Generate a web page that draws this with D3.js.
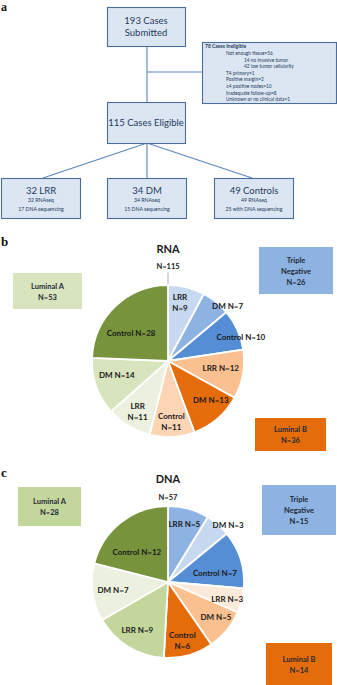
<!DOCTYPE html>
<html><head><meta charset="utf-8">
<script src="https://cdn.jsdelivr.net/npm/d3@7"></script>
<style>html,body{margin:0;padding:0;background:#fff;}svg{display:block;}</style>
</head><body>
<svg id="c" width="337" height="685"></svg>
<script>
// ---------- DATA ----------
const submitted = ["193 Cases", "Submitted"];
const eligible = "115 Cases Eligible";
const ineligibleHeader = "78 Cases Ineligible";
const ineligibleLines = ["Not enough tissue=56", "14 no invasive tumor", "42 low tumor cellularity",
  "T4 primary=1", "Positive margin=2", "≥4 positive nodes=10", "Inadequate follow-up=8", "Unknown or no clinical data=1"];
const ineligibleLevels = [1, 2, 2, 1, 1, 1, 1, 1];
const groupTitles = ["32 LRR", "34 DM", "49 Controls"];
const groupRna = ["32 RNAseq", "34 RNAseq", "49 RNAseq"];
const groupDna = ["17 DNA sequencing", "15 DNA sequencing", "25 with DNA sequencing"];

const sliceCategories = ["LRR", "DM", "Control", "LRR", "DM", "Control", "LRR", "DM", "Control"];
const rnaValues = [9, 7, 10, 12, 13, 11, 11, 14, 28];
const dnaValues = [5, 3, 7, 3, 5, 6, 9, 7, 12];
const subtypeNames = ["Triple Negative", "Luminal B", "Luminal A"];
const rnaSubtypeTotals = [26, 36, 53];
const dnaSubtypeTotals = [15, 14, 28];
const rnaTotal = 115, dnaTotal = 57;

// ---------- STYLE ----------
const rnaColors = ["#c6d9f1", "#8db3e2", "#558ed5", "#fac090", "#e46c0a", "#fcd5b5", "#ebf1de", "#d7e4bd", "#77933c"];
const dnaColors = ["#8db3e2", "#c6d9f1", "#558ed5", "#fde9d9", "#fac090", "#e46c0a", "#c3d69b", "#ebf1de", "#77933c"];
const FONT = "Lato, Carlito, Calibri, 'Open Sans', sans-serif";
const boxFill = "#dce6f2", boxStroke = "#4a6d9c", lineCol = "#5b86c0", boxText = "#1f3a60";

const svg = d3.select("#c");

// ---------- PANEL A: flowchart ----------
function panelLabel(t, x, y, size) {
  svg.append("text").attr("x", x).attr("y", y).text(t)
    .attr("font-family", "'Liberation Serif', 'Times New Roman', serif").attr("font-weight", "bold")
    .attr("font-size", size || 13).attr("fill", "#111");
}
panelLabel("a", 1, 11, 12);

const links = [[147, 46, 147, 102], [147, 72, 202, 72], [147, 143, 43, 178], [147, 143, 147, 178], [147, 143, 252, 178]];
svg.selectAll("line.link").data(links).join("line").attr("class", "link")
  .attr("x1", d => d[0]).attr("y1", d => d[1]).attr("x2", d => d[2]).attr("y2", d => d[3])
  .attr("stroke", lineCol).attr("stroke-width", 1.1);

function box(x, y, w, h) {
  svg.append("rect").attr("x", x + 0.5).attr("y", y + 0.5).attr("width", w).attr("height", h)
    .attr("fill", boxFill).attr("stroke", boxStroke).attr("stroke-width", 1.1);
}
function txt(t, x, y, size, opts = {}) {
  return svg.append("text").attr("x", x).attr("y", y).text(t)
    .attr("font-family", FONT).attr("font-size", size)
    .attr("font-weight", opts.weight || "normal")
    .attr("text-anchor", opts.anchor || "middle")
    .attr("fill", opts.fill || boxText);
}
box(107, 7, 78, 39);
submitted.forEach((s, i) => txt(s, 146, 24 + i * 12, 9.5));
box(107, 102, 78, 41);
txt(eligible, 146, 126, 9.5);
box(202, 42, 134, 61);
txt(ineligibleHeader, 205, 48, 5, { anchor: "start", weight: "bold" });
ineligibleLines.forEach((s, i) => txt(s, ineligibleLevels[i] === 1 ? 226 : 244, 55 + i * 6.6, 4.8, { anchor: "start" }));
const gx = [1, 107, 214];
groupTitles.forEach((g, i) => {
  box(gx[i], 178, 79, 40);
  txt(g, gx[i] + 40, 194, 9.5);
  txt(groupRna[i], gx[i] + 40, 202, 5.2);
  txt(groupDna[i], gx[i] + 40, 210.5, 5.2);
});

// ---------- PIES ----------
const R = 76;
const pie = d3.pie().sort(null).value(d => d.v).startAngle(0).endAngle(2 * Math.PI);
const arc = d3.arc().innerRadius(0).outerRadius(R);
const deg = Math.PI / 180;

function drawPie(cfg) {
  panelLabel(cfg.panel, 1, cfg.panelY);
  txt(cfg.title, cfg.cx, cfg.titleY, 11, { weight: "bold", fill: "#1a1a1a" });
  txt("N=" + cfg.total, cfg.cx, cfg.nY, 7.5, { weight: "bold", fill: "#1a1a1a" });
  if (cfg.leader) svg.append("line").attr("x1", cfg.cx).attr("x2", cfg.cx)
    .attr("y1", cfg.nY + 4).attr("y2", cfg.cy - R).attr("stroke", "#999").attr("stroke-width", 0.8);
  const data = cfg.values.map((v, i) => ({ v, cat: sliceCategories[i], i }));
  const g = svg.append("g").attr("transform", `translate(${cfg.cx},${cfg.cy})`);
  const arcs = pie(data);
  g.selectAll("path").data(arcs).join("path")
    .attr("d", arc).attr("fill", d => cfg.colors[d.data.i])
    .attr("stroke", "#fff").attr("stroke-width", 1.8).attr("stroke-linejoin", "round");
  arcs.forEach((a, i) => {
    const ang = (a.startAngle + a.endAngle) / 2 + cfg.labelDA[i] * deg;
    const r = R * cfg.labelR[i];
    const x = Math.sin(ang) * r, y = -Math.cos(ang) * r;
    const lines = cfg.wrap[i] ? [a.data.cat, "N=" + a.data.v] : [a.data.cat + " N=" + a.data.v];
    const t = g.append("text").attr("font-family", FONT).attr("font-size", 8).attr("font-weight", "bold")
      .attr("fill", "#1a1a1a").attr("text-anchor", "middle");
    lines.forEach((l, k) => t.append("tspan").attr("x", x)
      .attr("y", y + 3 + (k - (lines.length - 1) / 2) * 11).text(l));
  });
  // subtype boxes
  cfg.boxes.forEach((b, k) => {
    svg.append("rect").attr("x", b[0]).attr("y", b[1]).attr("width", b[2]).attr("height", b[3])
      .attr("fill", cfg.boxColors[k]);
    const words = k === 0 ? ["Triple", "Negative"] : [subtypeNames[k]];
    const lines = words.concat(["N=" + cfg.subTotals[k]]);
    lines.forEach((l, j) => txt(l, b[0] + b[2] / 2, b[1] + b[3] / 2 + 3 + (j - (lines.length - 1) / 2) * 11, 7.5,
      { weight: "bold", fill: "#1f2a36" }));
  });
}

drawPie({
  panel: "b", panelY: 246, title: "RNA", titleY: 253, nY: 268.5, leader: true, total: rnaTotal,
  cx: 168, cy: 361, values: rnaValues, colors: rnaColors,
  labelR: [0.78, 1.07, 1.01, 0.70, 0.76, 0.80, 0.77, 0.70, 0.61],
  labelDA: [-2.4, 8, 6, -2.7, -7, 0, 0, 4, -9],
  wrap: [true, false, false, false, false, true, true, false, false],
  subTotals: rnaSubtypeTotals,
  boxes: [[259, 247, 74, 47], [255, 418, 71, 33], [13, 273, 69, 36]],
  boxColors: ["#8db3e2", "#e46c0a", "#d7e4bd"]
});
drawPie({
  panel: "c", panelY: 477, title: "DNA", titleY: 483, nY: 499.5, leader: false, total: dnaTotal,
  cx: 168, cy: 582, values: dnaValues, colors: dnaColors,
  labelR: [0.79, 1.09, 0.63, 0.81, 0.78, 0.79, 0.75, 0.73, 0.57],
  labelDA: [0, 5.5, 6, 2, -3.5, 2, 1, 0, -8],
  wrap: [false, false, false, false, false, true, false, false, false],
  subTotals: dnaSubtypeTotals,
  boxes: [[262, 485, 74, 50], [266, 643, 66, 42], [18, 487, 63, 39]],
  boxColors: ["#8db3e2", "#e46c0a", "#c3d69b"]
});
</script>
</body></html>
